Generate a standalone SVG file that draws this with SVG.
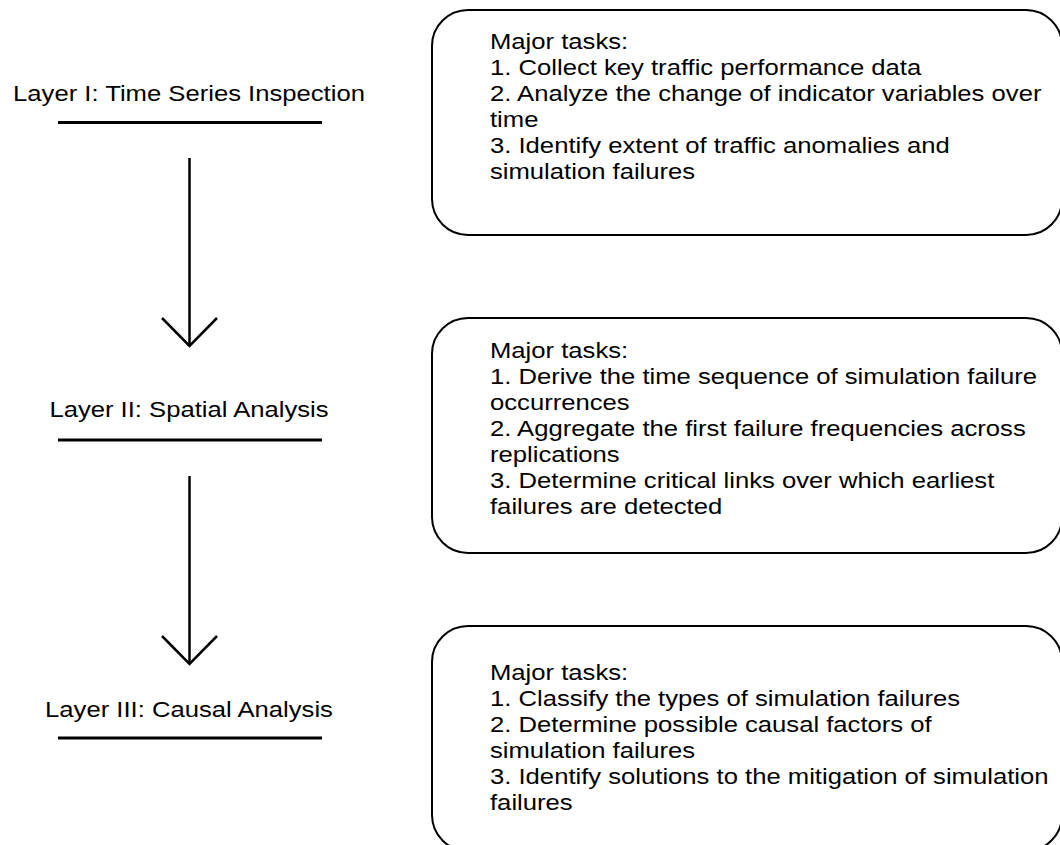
<svg xmlns="http://www.w3.org/2000/svg" width="1060" height="845" viewBox="0 0 1060 845">
<defs>
<style>
.t{font-family:"Liberation Sans",Arial,sans-serif;font-size:22.5px;fill:#000}
.box{fill:#fff;stroke:#000;stroke-width:2}
.ul{stroke:#000;stroke-width:3;fill:none}
.arr{stroke:#000;stroke-width:2.5;fill:none;stroke-linecap:butt}
</style>
</defs>
<rect width="1060" height="845" fill="#fff"/>
<g id="layer1">
<text class="t" text-anchor="middle" transform="translate(189,101) scale(1.14,1)">Layer I: Time Series Inspection</text>
<line class="ul" x1="58" y1="122.5" x2="322" y2="122.5"/>
</g>
<g id="layer2">
<text class="t" text-anchor="middle" transform="translate(189,417) scale(1.14,1)">Layer II: Spatial Analysis</text>
<line class="ul" x1="58" y1="440" x2="322" y2="440"/>
</g>
<g id="layer3">
<text class="t" text-anchor="middle" transform="translate(189,717) scale(1.14,1)">Layer III: Causal Analysis</text>
<line class="ul" x1="58" y1="738" x2="322" y2="738"/>
</g>
<g id="box1">
<rect class="box" x="432" y="10" width="630" height="225" rx="36" ry="36"/>
<text class="t" transform="translate(490,49) scale(1.14,1)"><tspan x="0" y="0">Major tasks:</tspan><tspan x="0" dy="26">1. Collect key traffic performance data</tspan><tspan x="0" dy="26">2. Analyze the change of indicator variables over</tspan><tspan x="0" dy="26">time</tspan><tspan x="0" dy="26">3. Identify extent of traffic anomalies and</tspan><tspan x="0" dy="26">simulation failures</tspan></text>
</g>
<g id="box2">
<rect class="box" x="432" y="318" width="630" height="235" rx="36" ry="36"/>
<text class="t" transform="translate(490,358) scale(1.14,1)"><tspan x="0" y="0">Major tasks:</tspan><tspan x="0" dy="26">1. Derive the time sequence of simulation failure</tspan><tspan x="0" dy="26">occurrences</tspan><tspan x="0" dy="26">2. Aggregate the first failure frequencies across</tspan><tspan x="0" dy="26">replications</tspan><tspan x="0" dy="26">3. Determine critical links over which earliest</tspan><tspan x="0" dy="26">failures are detected</tspan></text>
</g>
<g id="box3">
<rect class="box" x="432" y="626" width="630" height="225" rx="36" ry="36"/>
<text class="t" transform="translate(490,680) scale(1.14,1)"><tspan x="0" y="0">Major tasks:</tspan><tspan x="0" dy="26">1. Classify the types of simulation failures</tspan><tspan x="0" dy="26">2. Determine possible causal factors of</tspan><tspan x="0" dy="26">simulation failures</tspan><tspan x="0" dy="26">3. Identify solutions to the mitigation of simulation</tspan><tspan x="0" dy="26">failures</tspan></text>
</g>
<g id="connectors">
<line class="arr" x1="189.5" y1="158" x2="189.5" y2="346"/>
<polyline class="arr" points="162,318 189.5,346 217,318"/>
<line class="arr" x1="189.5" y1="476" x2="189.5" y2="664"/>
<polyline class="arr" points="162,636 189.5,664 217,636"/>
</g>
</svg>
